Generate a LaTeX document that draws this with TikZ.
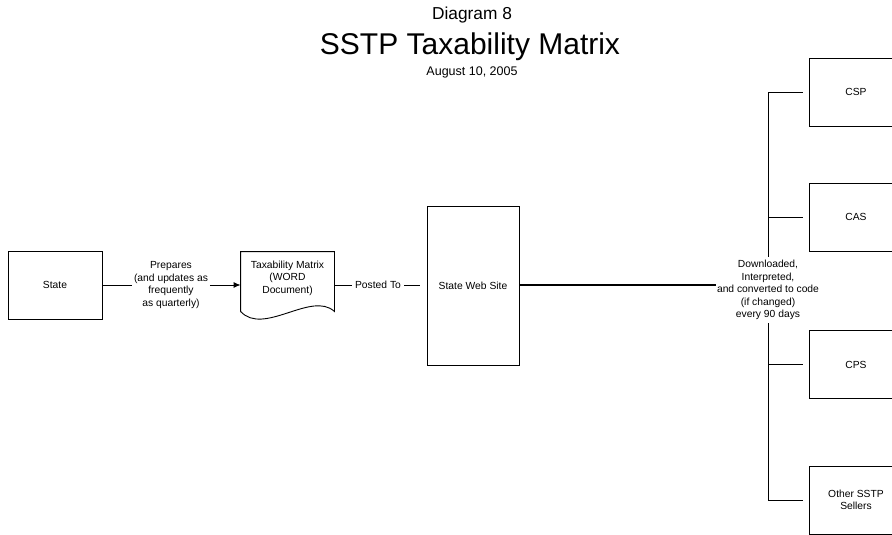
\documentclass[tikz,border=0pt]{standalone}
\usepackage{fontspec}
\setmainfont{Liberation Sans}
\usetikzlibrary{calc,positioning,arrows.meta}
\begin{document}
\begin{tikzpicture}[x=1pt,y=-1pt,line width=0.9pt,
	box/.style={draw,align=center,minimum width=94pt,minimum height=68pt,inner sep=2pt,font=\fontsize{10.3}{12.5}\selectfont},
	lbl/.style={align=center,inner sep=1.5pt,font=\fontsize{10.3}{12.5}\selectfont}]
	\useasboundingbox (0,0) rectangle (892,535);
	\node[anchor=base,font=\fontsize{17.3}{20}\selectfont] (diag) at (472,20) {Diagram 8};
	\node[anchor=base,font=\fontsize{30}{34}\selectfont] (title) at (470,55) {SSTP Taxability Matrix};
	\node[anchor=base,font=\fontsize{12.5}{15}\selectfont] (date) at (472,76) {August 10, 2005};
	\node[box] (state) at (55,285) {State};
	\node[lbl] (prep) at (171,285) {Prepares\\(and updates as\\frequently\\as quarterly)};
	\node[minimum width=93pt,minimum height=59pt,inner sep=0pt] (doc) at (287.5,281.5) {};
	\draw (doc.south west) -- (doc.north west) -- (doc.north east) -- (doc.south east)
		.. controls +(-23pt,21pt) and +(23pt,-25pt) .. (doc.south west);
	\node[lbl] (doctext) at (287.5,278) {Taxability Matrix\\(WORD\\Document)};
	\node[lbl,inner sep=3pt] (posted) at (378,285) {Posted To};
	\node[box,minimum width=92pt,minimum height=159pt] (web) at (473,285.5) {State Web Site};
	\node[lbl,inner xsep=1pt,inner ysep=3pt] (down) at (768,290) {Downloaded,\\Interpreted,\\and converted to code\\(if changed)\\every 90 days};
	\node[box] (csp) at (856,92) {CSP};
	\node[box] (cas) at (856,217) {CAS};
	\node[box] (cps) at (856,364.5) {CPS};
	\node[box] (other) at (856,500) {Other SSTP\\Sellers};
	\draw (state.east) -- (prep.west);
	\draw[-{Latex[length=7pt,width=6pt]}] (prep.east) -- (prep.east -| doc.west);
	\draw (doc.east |- posted) -- (posted.west);
	\draw[shorten >=7pt] (posted.east) -- (posted.east -| web.west);
	\draw[line width=1.8pt] (web.east |- posted) -- (posted -| down.west);
	\draw[shorten >=6pt] (down.north) |- (csp.west);
	\draw[shorten >=6pt] (down.north) |- (cas.west);
	\draw[shorten >=6pt] (down.south) |- (cps.west);
	\draw[shorten >=6pt] (down.south) |- (other.west);
\end{tikzpicture}
\end{document}
